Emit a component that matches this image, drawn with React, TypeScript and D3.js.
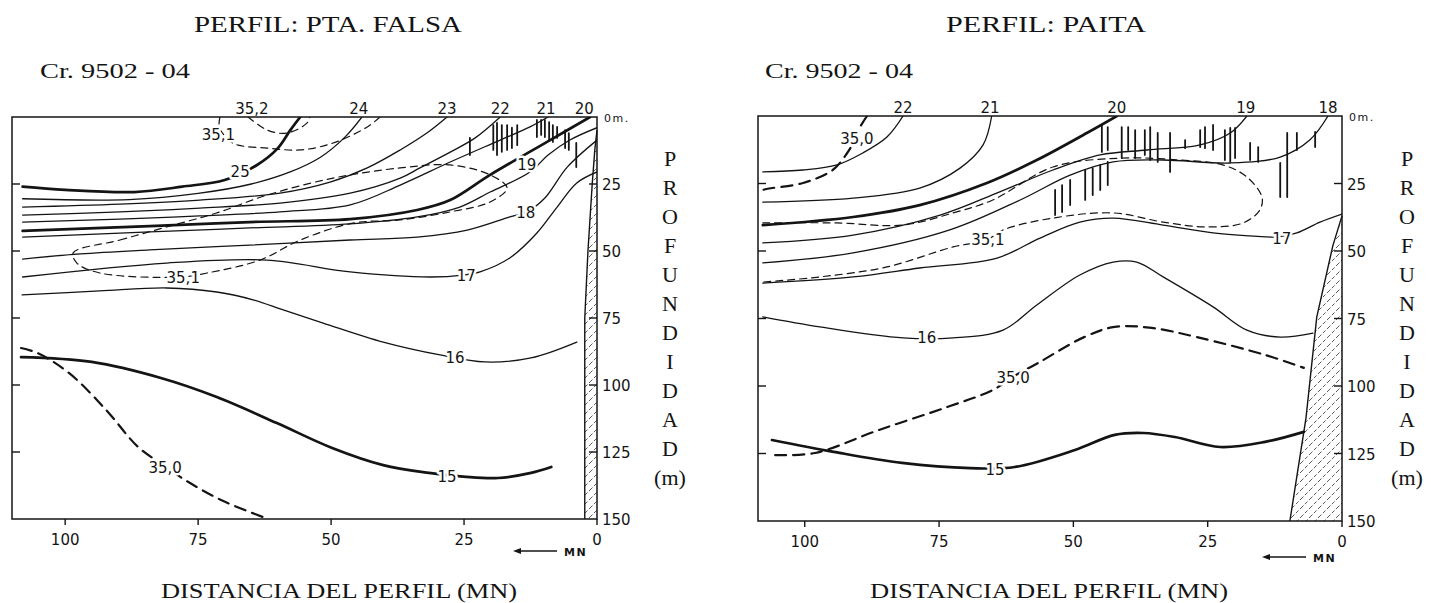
import React from 'react';
import * as d3 from 'd3';

type Pt = [number, number]; // [distancia (MN), profundidad (m)]

// ---------- PERFIL: PTA. FALSA ----------
const falsaT25: Pt[] = [[108, 26], [100, 27.2], [87, 28], [78, 26], [70, 23.5], [64, 18], [60, 11.6], [57.7, 5], [55.8, 0]];
const falsaT24: Pt[] = [[108, 30.5], [88, 30.8], [75, 28.5], [65, 25], [57.7, 20.5], [52, 15], [47.4, 7.5], [44.2, 0]];
const falsaT23: Pt[] = [[108, 33.6], [89.7, 32.5], [74.7, 31], [59.6, 28.4], [50.2, 24.3], [43.2, 19], [37, 12.3], [32, 6], [28.2, 0]];
const falsaT22: Pt[] = [[108, 36.6], [89.7, 35.4], [74.7, 34], [59.6, 32.1], [46.4, 28.4], [37, 22.8], [33.3, 19], [27.6, 13.1], [22.9, 7.8], [18.2, 0]];
const falsaT21: Pt[] = [[108, 39.2], [89.7, 38.1], [74.7, 36.9], [59.6, 35.4], [46.4, 32.8], [37, 25.4], [27.6, 16.8], [18.2, 8.6], [12.6, 3.7], [9.2, 0]];
const falsaT20: Pt[] = [[108, 42.5], [84.1, 40.7], [65.3, 39.2], [46.4, 38.1], [33.8, 34.7], [27.6, 31], [20.1, 21.6], [8.8, 8.6], [1.3, 0]];
const falsaT19: Pt[] = [[108, 44.8], [84.1, 42.9], [65.3, 41.4], [46.4, 39.9], [33.8, 37.3], [25.8, 33.6], [20.1, 28], [12.6, 20.5], [9.2, 14.2], [5.1, 8.6], [0, 4]];
const falsaT18: Pt[] = [[108, 53], [97.2, 51.1], [84.1, 49.6], [65.3, 47.8], [46.4, 45.9], [33.8, 44.8], [24.4, 42.2], [16.4, 37.3], [13.2, 35.4], [9.8, 30.2], [5.6, 18.7], [0, 8.6]];
const falsaT17: Pt[] = [[108, 59.7], [80.9, 54.5], [62.1, 53.4], [46.4, 57.8], [31.4, 59.7], [25.2, 59], [22, 57.8], [16.4, 52.6], [11.3, 43.3], [7.5, 33.6], [3.8, 24.6], [0, 20.5]];
const falsaT16: Pt[] = [[108.1, 66.4], [93.5, 64.9], [80.9, 63.8], [71.5, 65.3], [64.5, 68.3], [59, 72], [51.5, 76.9], [40.2, 84], [29.5, 88.8], [21.1, 91.4], [12.4, 89.9], [3.8, 84]];
const falsaT15: Pt[] = [[108.3, 89.6], [95, 91.4], [82, 97.4], [71.5, 104.5], [60.2, 114.2], [49.8, 123.5], [40.2, 129.9], [31.6, 132.8], [24.6, 134.3], [18.6, 134.7], [12.4, 132.8], [8.6, 130.6]];
const falsaS350: Pt[] = [[108.3, 86.2], [105.3, 88], [99.3, 95.5], [92.3, 109.3], [86.3, 123.1], [81, 130.6], [77.5, 135.4], [70.7, 142.9], [62.8, 149.3]];
const falsaS352: Pt[] = [[65.6, 0], [62, 4.9], [58.3, 6], [54.5, 2.2], [54, 0]];
const falsaS351a: Pt[] = [[70.9, 0], [71, 4], [69, 9], [67.5, 10.5], [62, 11.6], [55.8, 12.3], [49.6, 9.7], [43.2, 3.7], [40.8, 0]];
const falsaS351b: Pt[] = [[98.5, 50.7], [89.7, 45.9], [80.9, 41], [71.5, 35.8], [62, 29.1], [49.6, 22.8], [37, 19], [27.6, 17.9], [20.1, 21.6], [16.9, 26.5], [20.1, 31.7], [27.6, 35.4], [37, 38.4], [45.9, 39.6], [55.8, 45.9], [63.4, 53.4], [73.3, 58.2], [78.4, 59.7], [93.5, 58.2], [97.8, 54.5]];
// inversiones / marcas verticales: [distancia, prof. sup., prof. inf.]
const falsaBars: [number, number, number][] = [
  [23.9, 7.8, 14.2], [19.5, 3, 12.3], [18.8, 2.2, 14.2], [17.9, 3, 13], [16.9, 3, 12.3], [16, 4, 11.6], [15, 3, 10.5],
  [11.3, 1.1, 7.5], [10.5, 1.1, 6.7], [9.8, 1.1, 7.5], [9, 1.9, 8.6], [8.3, 3, 9.3], [7.5, 3.7, 7.8], [6, 4.9, 11.6],
  [5.3, 6, 12.3], [3.9, 9.7, 18.7],
];
const falsaLand: Pt[] = [[0, 5], [0.4, 12], [0.9, 25], [1.7, 50], [2.3, 75], [2.3, 150]];
const falsaTop = [
  { t: '35,2', d: 64.9 }, { t: '24', d: 44.8 }, { t: '23', d: 28.2 }, { t: '22', d: 18.2 }, { t: '21', d: 9.6 }, { t: '20', d: 2.4 },
];
const falsaLabels = [
  { t: '35,1', d: 71.2, z: 6.7 }, { t: '25', d: 67.1, z: 20.5 }, { t: '19', d: 13.2, z: 17.9 }, { t: '18', d: 13.4, z: 35.8 },
  { t: '35,1', d: 77.8, z: 60 }, { t: '17', d: 24.6, z: 59 }, { t: '16', d: 26.7, z: 89.9 }, { t: '15', d: 28.2, z: 134.3 },
  { t: '35,0', d: 81.2, z: 130.6 },
];

// ---------- PERFIL: PAITA ----------
const paitaT22: Pt[] = [[81.7, 0], [84.7, 7.8], [89.2, 13.7], [94, 18.1], [100.3, 20], [107.8, 20.7]];
const paitaT21: Pt[] = [[65.2, 0], [66.8, 10.7], [71.1, 19.3], [78.6, 26.7], [91, 30.4], [107.8, 31.9]];
const paitaT20: Pt[] = [[41.9, 0], [47.5, 6.3], [56.8, 16.3], [66.1, 24.8], [78.6, 33], [91, 37.4], [107.8, 40.4]];
const paitaT19: Pt[] = [[17.7, 0], [20.8, 6.3], [26.4, 10.7], [36.3, 12.6], [45, 14.4], [53.8, 20], [63.7, 28.1], [74.8, 36.7], [91, 44.1], [107.8, 47]];
const paitaT18: Pt[] = [[2.6, 0], [6, 8.9], [11.5, 15.2], [20.8, 17.4], [33.3, 16.3], [42.6, 17], [50.6, 21.9], [59.9, 31.1], [73, 42.2], [91, 50.7], [107.8, 54.4]];
const paitaT17: Pt[] = [[0, 36.3], [4.1, 39.3], [8.4, 43.3], [12.1, 44.8], [17.1, 44.4], [24, 43.3], [33.3, 40.4], [42.6, 37.8], [48.8, 39.3], [56.2, 45.2], [64.2, 52.6], [78.6, 56.3], [91, 59.6], [107.8, 61.9]];
const paitaT16: Pt[] = [[107.8, 74.4], [97.2, 78.1], [81.7, 82.2], [72.4, 82.2], [63.1, 79.3], [56.8, 70], [48.8, 58.9], [42.6, 54.1], [38.2, 54.1], [33.3, 59.6], [24, 70.7], [17.7, 79.3], [11.5, 81.9], [5.4, 80.4]];
const paitaT15: Pt[] = [[106.1, 120], [94.6, 124.4], [81.9, 128.5], [69.2, 130.4], [60.9, 130], [49.7, 123.7], [42.3, 118.1], [37, 117.4], [31.1, 118.9], [22.7, 122.6], [14.3, 120.7], [7.1, 117]];
const paitaS350a: Pt[] = [[88.4, 0], [89.7, 4.1], [91, 10], [92.1, 13.7], [94.8, 20], [100.3, 24.8], [107.8, 27.4], [108.7, 28.5]];
const paitaS350b: Pt[] = [[105.5, 125.6], [98.1, 124.8], [86.2, 116.3], [73.5, 107.8], [65, 101.5], [61.6, 97], [56.6, 91.5], [48, 81.9], [42.3, 78.1], [35.4, 78.5], [27, 81.9], [14.3, 88.5], [7.1, 93.3]];
const paitaS351: Pt[] = [[107.8, 39.6], [94, 39.6], [81.7, 40.4], [72.4, 35.9], [65, 31.1], [53.8, 18.9], [41.3, 15.6], [30.2, 16.3], [22.2, 18.1], [17.7, 22.6], [14.9, 30], [15.3, 34.8], [18.4, 39.6], [25.1, 41.1], [33.3, 39.3], [42.6, 35.9], [53.8, 37.8], [63.1, 42.2], [66.1, 45.9], [72.4, 48.5], [84.7, 55.9], [97.2, 59.6], [107.8, 61.5]];
const paitaBars: [number, number, number][] = [
  [53.4, 27.4, 36.7], [52.1, 25.6, 35.6], [50.6, 23.7, 33], [47.8, 20, 31.1], [46.4, 19.3, 29.3], [45, 18.1, 27.4], [43.6, 17, 25.6],
  [44.7, 3.3, 13.3], [43.6, 4.1, 12.6], [41, 4.1, 15.6], [39.8, 4.1, 12.6], [38.5, 5.2, 15.6], [36.7, 5.2, 14.4], [35.7, 4.1, 16.3],
  [34.3, 6.3, 17], [32, 6.3, 20.7], [29.2, 8.9, 11.9], [26.4, 5.2, 11.5], [25.5, 4.1, 11.9], [24, 3.3, 12.6], [21.8, 5.2, 16.3],
  [20.8, 4.4, 17], [19.9, 4.4, 15.6], [17.1, 10, 16.3], [15.6, 11.5, 17], [11.5, 17.4, 30], [10.2, 6.3, 30], [8.4, 6.3, 12.6],
  [5, 5.9, 11.5],
];
const paitaLand: Pt[] = [[0, 37], [1.7, 48], [4.7, 74.5], [6.7, 111.8], [9.7, 150]];
const paitaTop = [{ t: '22', d: 81.7 }, { t: '21', d: 65.5 }, { t: '20', d: 41.9 }, { t: '19', d: 17.9 }, { t: '18', d: 2.6 }];
const paitaLabels = [
  { t: '35,0', d: 90.3, z: 8.5 }, { t: '35,1', d: 65.9, z: 45.9 }, { t: '17', d: 11.2, z: 45.2 }, { t: '16', d: 77.3, z: 82.2 },
  { t: '35,0', d: 61.2, z: 97 }, { t: '15', d: 64.6, z: 131.1 },
];

const depthTicks = [25, 50, 75, 100, 125, 150];
const distTicks = [100, 75, 50, 25, 0];
const sideLetters = ['P', 'R', 'O', 'F', 'U', 'N', 'D', 'I', 'D', 'A', 'D', '(m)'];

const serif = '"Liberation Serif", "Times New Roman", serif';
const sans = '"DejaVu Sans", Verdana, sans-serif';
const ink = '#141414';

type Kind = 'thin' | 'thick' | 'dash' | 'dashBold';
const strokeOf: Record<Kind, { w: number; dash?: string }> = {
  thin: { w: 1.3 },
  thick: { w: 2.7 },
  dash: { w: 1.2, dash: '7 5' },
  dashBold: { w: 2.2, dash: '11 7' },
};

interface PanelCfg {
  id: string;
  x0: number; x1: number; y0: number; y1: number; maxD: number;
  lines: { pts: Pt[]; kind: Kind; closed?: boolean }[];
  bars: [number, number, number][];
  land: Pt[];
  top: { t: string; d: number }[];
  labels: { t: string; d: number; z: number }[];
  title: { text: string; cx: number; w: number };
  cr: { x: number; w: number };
  xlabel: { cx: number; w: number };
  sideX: number;
  mn: { x: number; y: number };
}

const panels: PanelCfg[] = [
  {
    id: 'falsa', x0: 12, x1: 597, y0: 117, y1: 519, maxD: 110,
    lines: [
      { pts: falsaT25, kind: 'thick' }, { pts: falsaT24, kind: 'thin' }, { pts: falsaT23, kind: 'thin' },
      { pts: falsaT22, kind: 'thin' }, { pts: falsaT21, kind: 'thin' }, { pts: falsaT20, kind: 'thick' },
      { pts: falsaT19, kind: 'thin' }, { pts: falsaT18, kind: 'thin' }, { pts: falsaT17, kind: 'thin' },
      { pts: falsaT16, kind: 'thin' }, { pts: falsaT15, kind: 'thick' },
      { pts: falsaS350, kind: 'dashBold' }, { pts: falsaS352, kind: 'dash' }, { pts: falsaS351a, kind: 'dash' },
      { pts: falsaS351b, kind: 'dash', closed: true },
    ],
    bars: falsaBars, land: falsaLand, top: falsaTop, labels: falsaLabels,
    title: { text: 'PERFIL: PTA. FALSA', cx: 328, w: 268 },
    cr: { x: 40, w: 150 },
    xlabel: { cx: 339, w: 356 },
    sideX: 670,
    mn: { x: 513, y: 551 },
  },
  {
    id: 'paita', x0: 758, x1: 1342, y0: 116, y1: 521, maxD: 108.7,
    lines: [
      { pts: paitaT22, kind: 'thin' }, { pts: paitaT21, kind: 'thin' }, { pts: paitaT20, kind: 'thick' },
      { pts: paitaT19, kind: 'thin' }, { pts: paitaT18, kind: 'thin' }, { pts: paitaT17, kind: 'thin' },
      { pts: paitaT16, kind: 'thin' }, { pts: paitaT15, kind: 'thick' },
      { pts: paitaS350a, kind: 'dashBold' }, { pts: paitaS350b, kind: 'dashBold' }, { pts: paitaS351, kind: 'dash' },
    ],
    bars: paitaBars, land: paitaLand, top: paitaTop, labels: paitaLabels,
    title: { text: 'PERFIL: PAITA', cx: 1046, w: 200 },
    cr: { x: 765, w: 148 },
    xlabel: { cx: 1049, w: 358 },
    sideX: 1407,
    mn: { x: 1262, y: 557 },
  },
];

function Panel({ cfg }: { cfg: PanelCfg }) {
  const x = d3.scaleLinear().domain([cfg.maxD, 0]).range([cfg.x0, cfg.x1]);
  const y = d3.scaleLinear().domain([0, 150]).range([cfg.y0, cfg.y1]);
  const open = d3.line<Pt>().x(p => x(p[0])).y(p => y(p[1])).curve(d3.curveCatmullRom.alpha(0.5));
  const closed = d3.line<Pt>().x(p => x(p[0])).y(p => y(p[1])).curve(d3.curveCatmullRomClosed.alpha(0.5));
  const straight = d3.line<Pt>().x(p => x(p[0])).y(p => y(p[1]));
  const landPoly: Pt[] = [...cfg.land, [0, 150], [0, cfg.land[0][1]]];
  const clipId = `clip-${cfg.id}`;

  return (
    <g>
      <defs>
        <clipPath id={clipId}>
          <rect x={cfg.x0} y={cfg.y0} width={cfg.x1 - cfg.x0} height={cfg.y1 - cfg.y0} />
        </clipPath>
      </defs>

      {/* titles */}
      <text x={cfg.title.cx} y={32} textAnchor="middle" fontFamily={serif} fontSize={24}
        textLength={cfg.title.w} lengthAdjust="spacingAndGlyphs" fill={ink}>{cfg.title.text}</text>
      <text x={cfg.cr.x} y={78} fontFamily={serif} fontSize={22}
        textLength={cfg.cr.w} lengthAdjust="spacingAndGlyphs" fill={ink}>Cr. 9502 - 04</text>

      {/* land */}
      <path d={straight(landPoly) || ''} fill="url(#hatch)" stroke="none" />
      <path d={straight(cfg.land) || ''} fill="none" stroke={ink} strokeWidth={1.4} />

      {/* isolines */}
      <g clipPath={`url(#${clipId})`} fill="none" stroke={ink} strokeLinecap="round">
        {cfg.lines.map((l, i) => (
          <path key={i} d={(l.closed ? closed(l.pts) : open(l.pts)) || ''}
            strokeWidth={strokeOf[l.kind].w} strokeDasharray={strokeOf[l.kind].dash} />
        ))}
        {cfg.bars.map((b, i) => (
          <line key={'b' + i} x1={x(b[0])} x2={x(b[0])} y1={y(b[1])} y2={y(b[2])} strokeWidth={1.8} />
        ))}
      </g>

      {/* inner labels */}
      {cfg.labels.map((l, i) => (
        <text key={i} x={x(l.d)} y={y(l.z) + 5.5} textAnchor="middle" fontFamily={sans} fontSize={15}
          fill={ink} stroke="#fff" strokeWidth={5} paintOrder="stroke" strokeLinejoin="round">{l.t}</text>
      ))}

      {/* top labels */}
      {cfg.top.map((l, i) => (
        <text key={i} x={x(l.d)} y={cfg.y0 - 3} textAnchor="middle" fontFamily={sans} fontSize={15} fill={ink}>{l.t}</text>
      ))}

      {/* frame */}
      <rect x={cfg.x0} y={cfg.y0} width={cfg.x1 - cfg.x0} height={cfg.y1 - cfg.y0} fill="none" stroke={ink} strokeWidth={1.5} />

      {/* depth ticks */}
      {depthTicks.filter(v => v < 150).map(v => (
        <g key={v} stroke={ink} strokeWidth={1.4}>
          <line x1={cfg.x0} x2={cfg.x0 + 8} y1={y(v)} y2={y(v)} />
          <line x1={cfg.x1 - 8} x2={cfg.x1} y1={y(v)} y2={y(v)} />
        </g>
      ))}
      <text x={cfg.x1 + 7} y={cfg.y0 + 5} fontFamily={sans} fontSize={11} letterSpacing={1.5} fill={ink}>0m.</text>
      {depthTicks.map(v => (
        <text key={v} x={cfg.x1 + 5} y={y(v) + 6} fontFamily={sans} fontSize={15} fill={ink}>{v}</text>
      ))}

      {/* distance ticks */}
      {distTicks.map(v => (
        <g key={v}>
          <line x1={x(v)} x2={x(v)} y1={cfg.y1} y2={cfg.y1 + 6} stroke={ink} strokeWidth={1.4} />
          <text x={x(v)} y={cfg.y1 + 26} textAnchor="middle" fontFamily={sans} fontSize={15} fill={ink}>{v}</text>
        </g>
      ))}

      {/* arrow MN */}
      <line x1={cfg.mn.x + 6} x2={cfg.mn.x + 44} y1={cfg.mn.y} y2={cfg.mn.y} stroke={ink} strokeWidth={1.6} />
      <path d={`M${cfg.mn.x},${cfg.mn.y} l8,-3 l0,6 z`} fill={ink} />
      <text x={cfg.mn.x + 51} y={cfg.mn.y + 5} fontFamily={sans} fontSize={11} fontWeight="bold" letterSpacing={1.5} fill={ink}>MN</text>

      {/* axis titles */}
      <text x={cfg.xlabel.cx} y={598} textAnchor="middle" fontFamily={serif} fontSize={22}
        textLength={cfg.xlabel.w} lengthAdjust="spacingAndGlyphs" fill={ink}>DISTANCIA DEL PERFIL (MN)</text>
      {sideLetters.map((c, i) => (
        <text key={i} x={cfg.sideX} y={158 + i * 29 + 7.5} textAnchor="middle" fontFamily={serif} fontSize={22} fill={ink}>{c}</text>
      ))}
    </g>
  );
}

export default function App() {
  return (
    <svg width={1431} height={603} viewBox="0 0 1431 603"
      style={{ position: 'absolute', left: 0, top: 0, background: '#fff' }}>
      <defs>
        <pattern id="hatch" width={9} height={9} patternUnits="userSpaceOnUse">
          <path d="M-1,10 L10,-1" stroke={ink} strokeWidth={0.7} strokeDasharray="5 2" />
        </pattern>
      </defs>
      <rect width={1431} height={603} fill="#fff" />
      {panels.map(p => <Panel key={p.id} cfg={p} />)}
    </svg>
  );
}
